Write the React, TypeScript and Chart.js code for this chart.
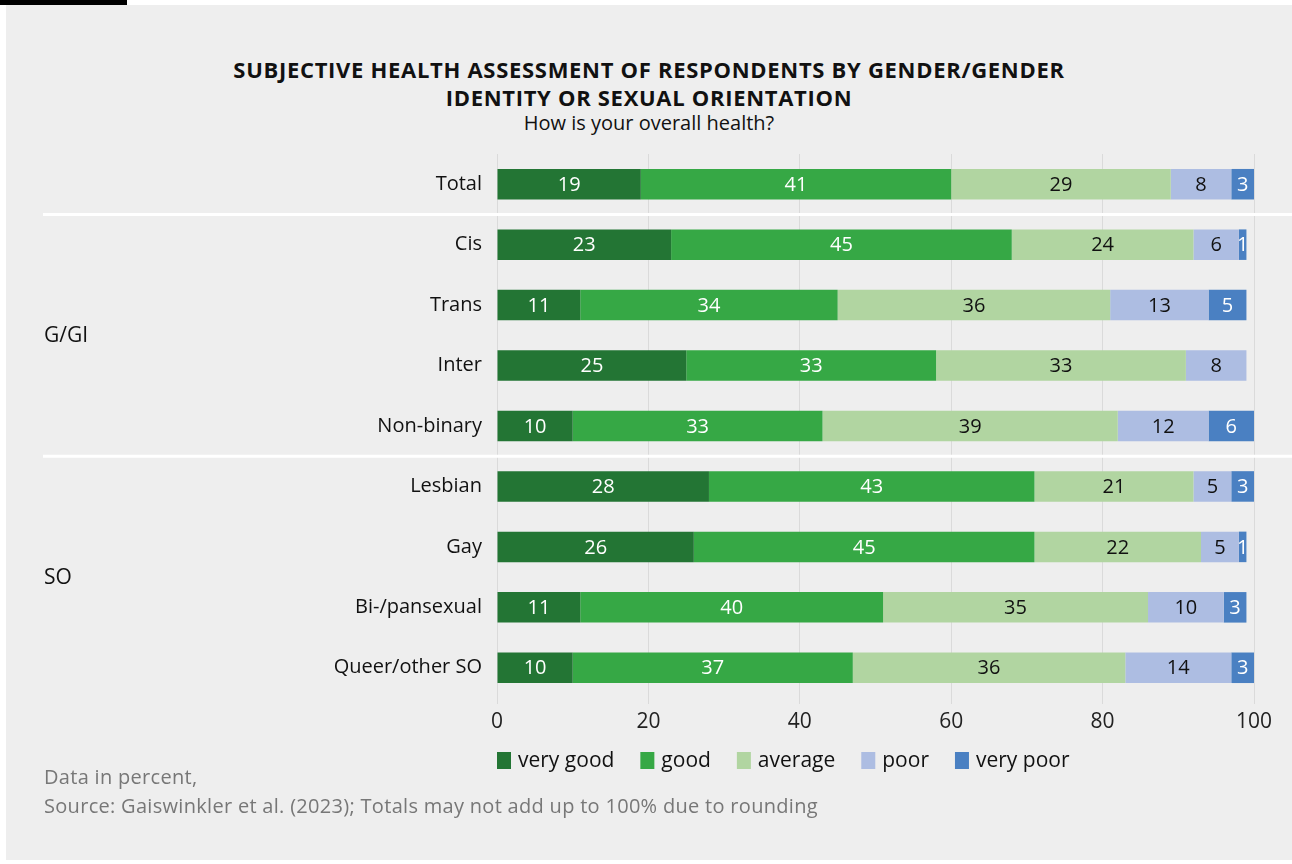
import React, { useEffect, useRef } from "react";
import { Chart, registerables } from "chart.js";

Chart.register(...registerables);

const categories = ["Total", "Cis", "Trans", "Inter", "Non-binary", "Lesbian", "Gay", "Bi-/pansexual", "Queer/other SO"];
const seriesNames = ["very good", "good", "average", "poor", "very poor"];
const veryGood = [19, 23, 11, 25, 10, 28, 26, 11, 10];
const good = [41, 45, 34, 33, 33, 43, 45, 40, 37];
const average = [29, 24, 36, 33, 39, 21, 22, 35, 36];
const poor = [8, 6, 13, 8, 12, 5, 5, 10, 14];
const veryPoor = [3, 1, 5, null, 6, 3, 1, 3, 3];
const xTicks = [0, 20, 40, 60, 80, 100];
const groupLabels = [
  { text: "G/GI", from: 1, to: 4 },
  { text: "SO", from: 5, to: 8 },
];
const separatorsAfter = [0, 4];

const colors = ["#237534", "#36a845", "#b1d5a1", "#adbde2", "#4a80c2"];
const labelColors = ["#ffffff", "#ffffff", "#111111", "#111111", "#ffffff"];
const FONT = "'Open Sans', Lato, sans-serif";

export default function App() {
  const ref = useRef<HTMLCanvasElement | null>(null);

  useEffect(() => {
    if (!ref.current) return;
    const values = [veryGood, good, average, poor, veryPoor];

    const labelsPlugin = {
      id: "segLabels",
      afterDatasetsDraw(chart: any) {
        const ctx = chart.ctx;
        ctx.save();
        ctx.font = `20px ${FONT}`;
        ctx.textAlign = "center";
        ctx.textBaseline = "middle";
        chart.data.datasets.forEach((ds: any, di: number) => {
          const meta = chart.getDatasetMeta(di);
          meta.data.forEach((bar: any, i: number) => {
            const v = ds.data[i];
            if (v == null || v === 0) return;
            const cx = (bar.x + bar.base) / 2;
            ctx.fillStyle = labelColors[di];
            ctx.fillText(String(v), cx, bar.y + 1);
          });
        });
        ctx.restore();
      },
    };

    const decoPlugin = {
      id: "deco",
      afterDraw(chart: any) {
        const ctx = chart.ctx;
        const y = chart.scales.y;
        ctx.save();
        ctx.strokeStyle = "#ffffff";
        ctx.lineWidth = 3;
        separatorsAfter.forEach((i) => {
          const yy = (y.getPixelForValue(i) + y.getPixelForValue(i + 1)) / 2;
          ctx.beginPath();
          ctx.moveTo(43, yy);
          ctx.lineTo(1292, yy);
          ctx.stroke();
        });
        ctx.fillStyle = "#111111";
        ctx.font = `21px ${FONT}`;
        ctx.textAlign = "left";
        ctx.textBaseline = "middle";
        groupLabels.forEach((g) => {
          const yy = (y.getPixelForValue(g.from) + y.getPixelForValue(g.to)) / 2;
          ctx.fillText(g.text, 44, yy + 1);
        });
        // legend
        let x = chart.chartArea.left;
        const ly = 760;
        seriesNames.forEach((name, i) => {
          ctx.fillStyle = colors[i];
          ctx.fillRect(x, ly - 8, 14, 17);
          x += 21;
          ctx.fillStyle = "#111111";
          ctx.fillText(name, x, ly + 1);
          x += ctx.measureText(name).width + 26;
        });
        ctx.restore();
      },
    };

    const chart = new Chart(ref.current, {
      type: "bar",
      data: {
        labels: categories,
        datasets: seriesNames.map((name, i) => ({
          label: name,
          data: values[i],
          backgroundColor: colors[i],
          borderWidth: 0,
          barPercentage: 0.505,
          categoryPercentage: 1,
        })),
      },
      options: {
        indexAxis: "y",
        animation: false,
        responsive: false,
        maintainAspectRatio: false,
        layout: { padding: { left: 0, top: 154, right: 38, bottom: 126 } },
        plugins: {
          legend: { display: false },
          title: { display: false },
          tooltip: { enabled: false },
        },
        scales: {
          x: {
            stacked: true,
            min: 0,
            max: 100,
            afterBuildTicks: (s: any) => {
              s.ticks = xTicks.map((v) => ({ value: v }));
            },
            afterFit: (s: any) => {
              s.height = 40;
            },
            grid: { color: "#dadada", lineWidth: 1, drawTicks: true, tickLength: 6 },
            border: { display: false },
            ticks: { color: "#222222", font: { family: FONT, size: 21 }, padding: 5 },
          },
          y: {
            stacked: true,
            afterFit: (s: any) => {
              s.width = 497;
            },
            grid: { display: false },
            border: { display: false },
            ticks: { color: "#111111", font: { family: FONT, size: 20 }, padding: 7 },
          },
        },
      },
      plugins: [labelsPlugin, decoPlugin],
    } as any);
    return () => chart.destroy();
  }, []);

  return (
    <div style={{ position: "absolute", left: 0, top: 0, width: 1292, height: 864, background: "#ffffff", overflow: "hidden", fontFamily: FONT }}>
      <div style={{ position: "absolute", left: 0, top: 0, width: 127, height: 5, background: "#000000" }} />
      <div style={{ position: "absolute", left: 6, top: 5, width: 1286, height: 855, background: "#eeeeee" }} />
      <div style={{ position: "absolute", left: 6, width: 1286, top: 54, textAlign: "center", color: "#111111" }}>
        <div style={{ fontWeight: 700, fontSize: 22, lineHeight: "30px", letterSpacing: 0.7 }}>
          SUBJECTIVE HEALTH ASSESSMENT OF RESPONDENTS BY GENDER/GENDER
        </div>
        <div style={{ fontWeight: 700, fontSize: 22, lineHeight: "27px", letterSpacing: 0.7 }}>
          IDENTITY OR SEXUAL ORIENTATION
        </div>
        <div style={{ fontSize: 20, lineHeight: "24px" }}>How is your overall health?</div>
      </div>
      <canvas ref={ref} width={1292} height={864} style={{ position: "absolute", left: 0, top: 0, width: 1292, height: 864 }} />
      <div style={{ position: "absolute", left: 44, top: 762, fontSize: 20, lineHeight: "29px", color: "#777777", letterSpacing: 0.3 }}>
        <div>Data in percent,</div>
        <div>Source: Gaiswinkler et al. (2023); Totals may not add up to 100% due to rounding</div>
      </div>
    </div>
  );
}
